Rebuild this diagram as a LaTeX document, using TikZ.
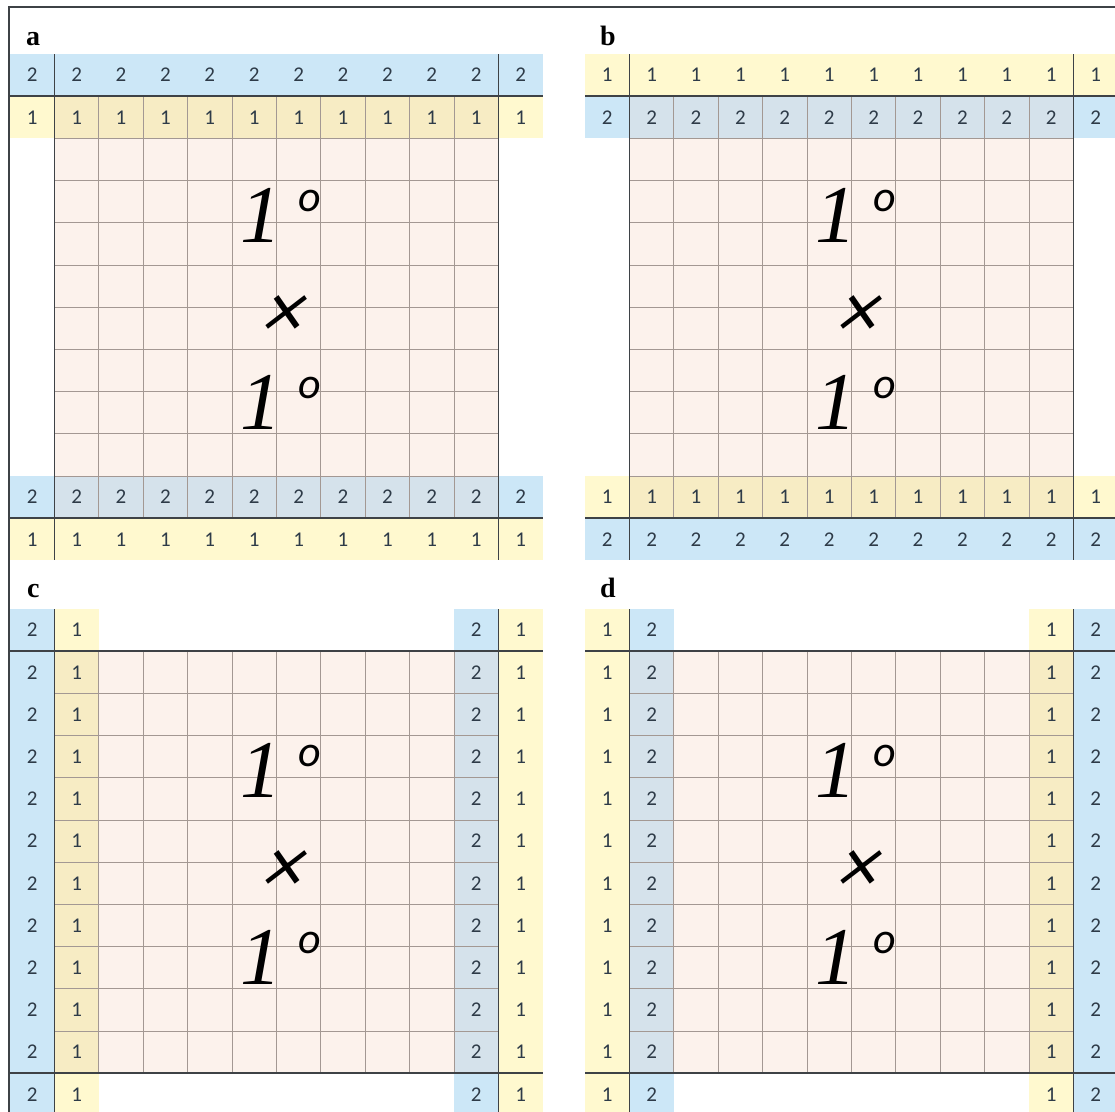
\documentclass[tikz,border=0pt]{standalone}
\usepackage{fontspec}
\setmainfont{Liberation Serif}
\newfontfamily\cellfont{Carlito}
\newfontfamily\crossfont[FakeSlant=0.3]{Carlito}
\usepackage{tikz}
\definecolor{strip1}{HTML}{FFF9CF}
\definecolor{strip1in}{HTML}{F7ECC4}
\definecolor{strip2}{HTML}{CCE7F7}
\definecolor{strip2in}{HTML}{D5E2EB}
\definecolor{pinkbg}{HTML}{FCF2EC}
\definecolor{gridln}{HTML}{A39893}
\definecolor{darkln}{HTML}{3E4246}
\definecolor{digitc}{HTML}{2E3B48}

% #1 name, #2 #3 top-left corner (px), #4 outer strip digit, #5 inner strip digit, #6 rowwise/colwise
\newcommand{\cellpanel}[6]{%
\begin{scope}[shift={(#2,#3)},#6]
 \fill[pinkbg] (1,2) rectangle (11,10);
 \fill[strip#4] (0,0) rectangle (12,1);
 \fill[strip#5] (0,1) rectangle (12,2);
 \fill[strip#5in] (1,1) rectangle (11,2);
 \fill[strip#4] (0,10) rectangle (12,11);
 \fill[strip#4in] (1,10) rectangle (11,11);
 \fill[strip#5] (0,11) rectangle (12,12);
 \foreach \k in {2,...,10}
  \draw[thinrule] (\k,1) -- (\k,11) (1,\k) -- (11,\k);
 \draw[heavyrule] (1,0) -- (1,12) (11,0) -- (11,12) (0,1) -- (12,1) (0,11) -- (12,11);
 \foreach \c in {0,...,11} {
  \node[num] (#1-0-\c) at ({\c+.5},.5) {#4};
  \node[num] (#1-1-\c) at ({\c+.5},1.5) {#5};
  \node[num] (#1-10-\c) at ({\c+.5},10.5) {#4};
  \node[num] (#1-11-\c) at ({\c+.5},11.5) {#5};
 }
\end{scope}
\node[bigone] (#1-one1) at ({#2+251},{#3+161}) {1};
\node[degsign] (#1-deg1) at ({#2+300},{#3+147}) {o};
\node[timessign] (#1-times) at ({#2+269},{#3+263}) {×};
\node[bigone] (#1-one2) at ({#2+251},{#3+348}) {1};
\node[degsign] (#1-deg2) at ({#2+300},{#3+334}) {o};
}

\begin{document}
\begin{tikzpicture}[x=1pt,y=-1pt,
 rowwise/.style={x={(44.4pt,0pt)},y={(0pt,-42.2pt)}},
 colwise/.style={x={(0pt,-42.2pt)},y={(44.4pt,0pt)}},
 thinrule/.style={draw=gridln,line width=1pt},
 heavyrule/.style={draw=darkln,line width=1.6pt},
 num/.style={inner sep=0pt,text=digitc,font=\cellfont\fontsize{21}{21}\selectfont},
 bigone/.style={inner sep=0pt,font=\itshape\fontsize{82}{82}\selectfont},
 degsign/.style={inner sep=0pt,font=\cellfont\itshape\fontsize{44}{44}\selectfont},
 timessign/.style={inner sep=0pt,font=\crossfont\fontsize{80}{80}\selectfont},
 panellabel/.style={inner sep=0pt,anchor=base west,font=\bfseries\fontsize{28}{28}\selectfont}]
\useasboundingbox (0,0) rectangle (1115,1111);
\clip (0,0) rectangle (1115,1111);
\fill[white] (0,0) rectangle (1115,1111);
\draw[darkln,line width=1.3pt] (9,1112) -- (9,7) -- (1116,7);

\cellpanel{a}{10}{54}{2}{1}{rowwise}
\cellpanel{b}{585}{54}{1}{2}{rowwise}
\cellpanel{c}{10}{609}{2}{1}{colwise}
\cellpanel{d}{585}{609}{1}{2}{colwise}

\node[panellabel] (lbl-a) at (26,45) {a};
\node[panellabel] (lbl-b) at (600,45) {b};
\node[panellabel] (lbl-c) at (27,597) {c};
\node[panellabel] (lbl-d) at (600,597) {d};
\end{tikzpicture}
\end{document}
